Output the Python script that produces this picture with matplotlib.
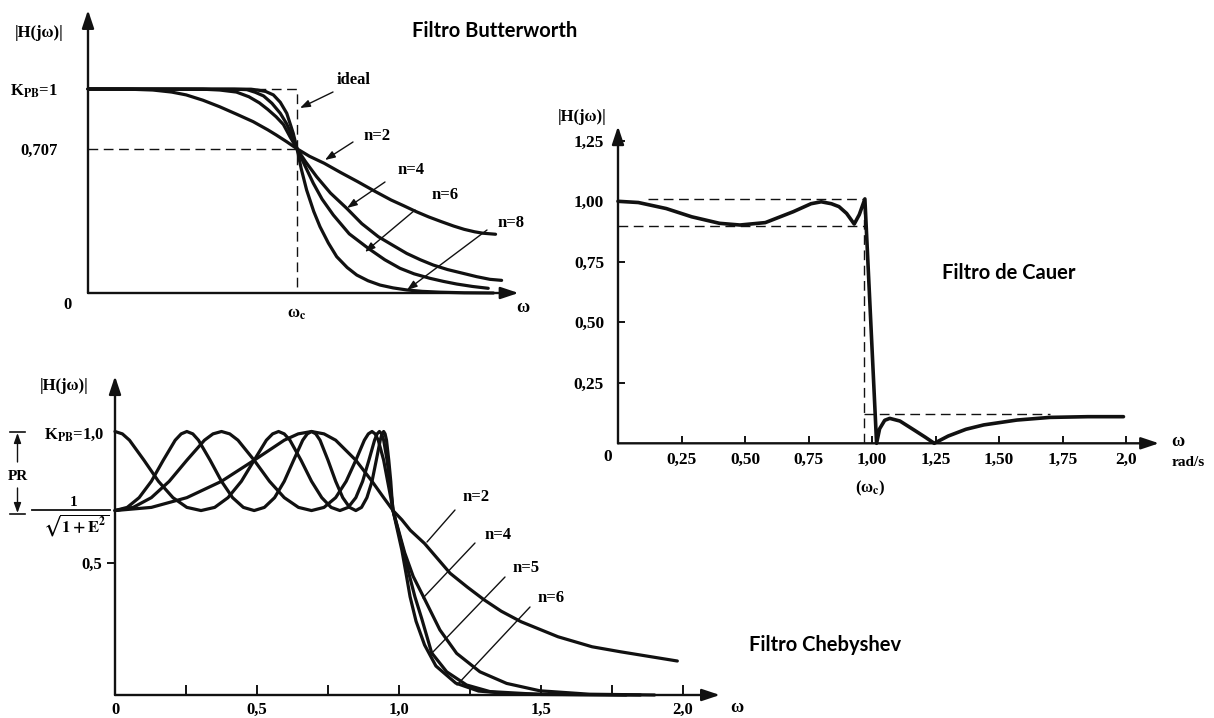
import matplotlib.pyplot as plt
from matplotlib.lines import Line2D
from matplotlib.transforms import Affine2D

plt.rcParams.update({
    "font.family": "Liberation Serif",
    "font.weight": "bold",
    "font.size": 12,
    "mathtext.fontset": "stix",
})

W, H = 1214, 718
INK = "#111111"

# ---- Butterworth: |H| vs w/wc ----
bw_w2 = [0, 0.20, 0.31, 0.40, 0.47, 0.55, 0.63, 0.71, 0.79, 0.86, 0.90, 0.95, 1.00, 1.06,
         1.13, 1.21, 1.29, 1.37, 1.45, 1.51, 1.57, 1.63, 1.69, 1.75, 1.80, 1.85, 1.89, 1.95]
bw_h2 = [1.0, 0.999, 0.995, 0.985, 0.971, 0.945, 0.913, 0.877, 0.840, 0.800, 0.775, 0.742, 0.707, 0.670,
         0.636, 0.590, 0.546, 0.500, 0.456, 0.428, 0.399, 0.373, 0.350, 0.328, 0.312, 0.300, 0.293, 0.288]
bw_w4 = [0, 0.55, 0.63, 0.71, 0.77, 0.82, 0.86, 0.90, 0.935, 0.967, 1.0, 1.04, 1.094,
         1.16, 1.238, 1.31, 1.389, 1.46, 1.525, 1.59, 1.652, 1.72, 1.796, 1.86, 1.923, 1.979]
bw_h4 = [1.0, 0.999, 0.995, 0.985, 0.962, 0.932, 0.900, 0.864, 0.826, 0.765, 0.707, 0.645, 0.570,
         0.490, 0.415, 0.340, 0.276, 0.233, 0.194, 0.163, 0.137, 0.115, 0.096, 0.080, 0.067, 0.062]
bw_w6 = [0, 0.70, 0.76, 0.80, 0.84, 0.88, 0.92, 0.95, 0.975, 1.0, 1.04, 1.078,
         1.12, 1.174, 1.25, 1.341, 1.42, 1.493, 1.56, 1.636, 1.70, 1.764, 1.84, 1.915]
bw_h6 = [1.0, 0.999, 0.997, 0.984, 0.966, 0.930, 0.881, 0.830, 0.775, 0.707, 0.620, 0.538,
         0.460, 0.382, 0.290, 0.219, 0.163, 0.121, 0.094, 0.072, 0.057, 0.044, 0.032, 0.023]
bw_w8 = [0, 0.78, 0.81, 0.85, 0.887, 0.92, 0.951, 0.982, 1.0, 1.02, 1.046, 1.08, 1.11,
         1.15, 1.19, 1.24, 1.286, 1.34, 1.397, 1.46, 1.525, 1.60, 1.684, 1.80, 1.94]
bw_h8 = [1.0, 0.999, 0.995, 0.988, 0.971, 0.935, 0.881, 0.783, 0.707, 0.610, 0.505, 0.400, 0.325,
         0.245, 0.178, 0.125, 0.088, 0.060, 0.039, 0.025, 0.015, 0.008, 0.004, 0.001, 0.0]
bw_orders = ["n=2", "n=4", "n=6", "n=8"]

# ---- Cauer (elliptic), w in rad/s ----
cauer_w = [0, 0.08, 0.19, 0.29, 0.40, 0.48, 0.58, 0.69, 0.76, 0.80, 0.84, 0.87, 0.90, 0.93, 0.95,
           0.972, 1.018, 1.03, 1.05, 1.07, 1.11, 1.17, 1.21, 1.245, 1.30, 1.37, 1.44, 1.57, 1.70,
           1.85, 1.99]
cauer_h = [1.0, 0.995, 0.97, 0.936, 0.909, 0.902, 0.912, 0.957, 0.99, 0.998, 0.99, 0.978, 0.95,
           0.906, 0.945, 1.01, 0.0, 0.06, 0.095, 0.103, 0.092, 0.052, 0.025, 0.0, 0.03, 0.058, 0.076,
           0.096, 0.107, 0.110, 0.110]
cauer_pass_hi, cauer_pass_lo, cauer_stop, cauer_edge = 1.01, 0.90, 0.12, 0.97
cauer_xticks = [0.25, 0.50, 0.75, 1.00, 1.25, 1.50, 1.75, 2.0]
cauer_xlabels = ["0,25", "0,50", "0,75", "1,00", "1,25", "1,50", "1,75", "2,0"]
cauer_yticks = [0.25, 0.50, 0.75, 1.00, 1.25]
cauer_ylabels = ["0,25", "0,50", "0,75", "1,00", "1,25"]

# ---- Chebyshev ----
cheb_w2 = [0, 0.128, 0.253, 0.375, 0.490, 0.596, 0.645, 0.692, 0.736, 0.777, 0.848, 0.905, 0.946,
           0.971, 0.979,
           1.01, 1.04, 1.09, 1.18, 1.24, 1.30, 1.36, 1.43, 1.56, 1.68, 1.78, 1.98]
cheb_h2 = [0.700, 0.712, 0.749, 0.811, 0.891, 0.967, 0.991, 1.000, 0.991, 0.967, 0.891, 0.811, 0.749,
           0.712, 0.700,
           0.665, 0.625, 0.575, 0.462, 0.410, 0.361, 0.318, 0.278, 0.221, 0.183, 0.164, 0.129]
cheb_w4 = [0, 0.064, 0.128, 0.191, 0.253, 0.315, 0.345, 0.375, 0.404, 0.433, 0.490, 0.544, 0.596,
           0.646, 0.692, 0.736, 0.777, 0.814, 0.848, 0.878, 0.892, 0.905, 0.916, 0.927, 0.946,
           0.960, 0.971, 0.977, 0.979,
           1.02, 1.05, 1.086, 1.144, 1.203, 1.285, 1.379, 1.496, 1.67, 1.90]
cheb_h4 = [0.700, 0.712, 0.749, 0.811, 0.891, 0.967, 0.991, 1.000, 0.991, 0.967, 0.891, 0.811, 0.749,
           0.712, 0.700, 0.712, 0.749, 0.811, 0.891, 0.967, 0.991, 1.000, 0.991, 0.967, 0.891,
           0.811, 0.749, 0.712, 0.700,
           0.54, 0.45, 0.373, 0.247, 0.158, 0.088, 0.044, 0.016, 0.003, 0.0]
cheb_w5 = [0, 0.026, 0.051, 0.102, 0.153, 0.204, 0.253, 0.303, 0.351, 0.398, 0.445, 0.490, 0.533,
           0.555, 0.576, 0.596, 0.616, 0.655, 0.692, 0.728, 0.761, 0.792, 0.821, 0.848, 0.872,
           0.894, 0.914, 0.923, 0.931, 0.939, 0.946, 0.958, 0.967, 0.974, 0.978, 0.979,
           1.015, 1.035, 1.056, 1.08, 1.115, 1.168, 1.238, 1.32, 1.50, 1.85]
cheb_h5 = [1.000, 0.991, 0.967, 0.891, 0.811, 0.749, 0.712, 0.700, 0.712, 0.749, 0.811, 0.891, 0.967,
           0.991, 1.000, 0.991, 0.967, 0.891, 0.811, 0.749, 0.712, 0.700, 0.712, 0.749, 0.811,
           0.891, 0.967, 0.991, 1.000, 0.991, 0.967, 0.891, 0.811, 0.749, 0.712, 0.700,
           0.55, 0.46, 0.373, 0.29, 0.16, 0.088, 0.038, 0.013, 0.002, 0.0]
cheb_w6 = [0, 0.043, 0.085, 0.128, 0.170, 0.212, 0.233, 0.253, 0.274, 0.294, 0.335, 0.375, 0.414,
           0.452, 0.490, 0.526, 0.562, 0.596, 0.629, 0.661, 0.677, 0.692, 0.707, 0.722, 0.750,
           0.777, 0.802, 0.826, 0.848, 0.868, 0.887, 0.905, 0.920, 0.934, 0.940, 0.946, 0.951,
           0.956, 0.964, 0.971, 0.975, 0.978, 0.979,
           1.01, 1.025, 1.039, 1.06, 1.09, 1.13, 1.20, 1.28, 1.40, 1.80]
cheb_h6 = [0.700, 0.712, 0.749, 0.811, 0.891, 0.967, 0.991, 1.000, 0.991, 0.967, 0.891, 0.811, 0.749,
           0.712, 0.700, 0.712, 0.749, 0.811, 0.891, 0.967, 0.991, 1.000, 0.991, 0.967, 0.891,
           0.811, 0.749, 0.712, 0.700, 0.712, 0.749, 0.811, 0.891, 0.967, 0.991, 1.000, 0.991,
           0.967, 0.891, 0.811, 0.749, 0.712, 0.700,
           0.55, 0.46, 0.373, 0.28, 0.19, 0.11, 0.045, 0.015, 0.004, 0.0]
cheb_orders = ["n=2", "n=4", "n=5", "n=6"]
cheb_xticks = [0, 0.5, 1.0, 1.5, 2.0]
cheb_xlabels = ["0", "0,5", "1,0", "1,5", "2,0"]
cheb_xminor = [0.25, 0.75, 1.25, 1.75]

fig = plt.figure(figsize=(W / 100, H / 100), dpi=100)
# pixel coords measured from the top-left corner of the picture
PIX = Affine2D().scale(1 / W, -1 / H).translate(0, 1) + fig.transFigure
DASH = dict(ls=(0, (7, 4)), lw=1.0, color=INK)
CURVE = dict(lw=2.3, color=INK, solid_capstyle="round", solid_joinstyle="round", clip_on=False)


def panel(x0, y0, sx, sy, xmax, ymax):
    ax = fig.add_axes([x0 / W, 1 - y0 / H, xmax * sx / W, ymax * sy / H])
    ax.set_xlim(0, xmax)
    ax.set_ylim(0, ymax)
    ax.patch.set_visible(False)
    for s in ax.spines.values():
        s.set_visible(False)
    arr = dict(arrowstyle="-|>,head_length=0.9,head_width=0.3", lw=1.7, color=INK,
               shrinkA=0, shrinkB=0)
    ax.annotate("", xy=(xmax, 0), xytext=(0, 0), arrowprops=arr, annotation_clip=False)
    ax.annotate("", xy=(0, ymax), xytext=(0, 0), arrowprops=arr, annotation_clip=False)
    return ax


def txt(x, y, s, **kw):
    kw.setdefault("ha", "center")
    kw.setdefault("va", "center")
    fig.text(x, y, s, transform=PIX, **kw)


def leader(ax, x1, y1, x2, y2, head=True):
    style = "-|>,head_length=0.5,head_width=0.18" if head else "-"
    ax.annotate("", xy=(x2, y2), xytext=(x1, y1), xycoords=PIX, textcoords=PIX,
                annotation_clip=False,
                arrowprops=dict(arrowstyle=style, lw=1.0, color=INK, shrinkA=0, shrinkB=0))


def seg(x1, y1, x2, y2, lw=1.2):
    fig.add_artist(Line2D([x1, x2], [y1, y2], transform=PIX, lw=lw, color=INK))


TITLE = dict(family="Lato", weight="bold", fontsize=14.5)

# ================= Butterworth =================
ax = panel(88, 293, 209, 204, 2.06, 1.387)
ax.plot([0, 1], [0.707, 0.707], **DASH)
ax.plot([0, 1, 1], [1, 1, 0], **DASH)
for w, h in [(bw_w2, bw_h2), (bw_w4, bw_h4), (bw_w6, bw_h6), (bw_w8, bw_h8)]:
    ax.plot(w, h, **CURVE)
ax.set_xticks([1.0], ["ω$_\\mathbf{c}$"])
ax.set_yticks([0.707, 1.0], ["0,707", "K$_{\\mathbf{PB}}$=1"])
ax.tick_params(length=0, labelsize=12)
ax.tick_params(axis="x", pad=9)
ax.tick_params(axis="y", pad=22)
txt(39, 33, "|H(jω)|", fontsize=12)
txt(68, 305, "0")
txt(523, 307, "ω", fontsize=13)
txt(495, 31, "Filtro Butterworth", **TITLE)
txt(354, 80, "ideal", fontsize=12)
leader(ax, 333, 92, 300, 108)
for name, (lx, ly), (a, b, c, d) in zip(
        bw_orders,
        [(377, 136), (411, 170), (445, 195), (511, 223)],
        [(353, 142, 325, 160), (385, 182, 347, 208), (415, 210, 365, 252), (487, 230, 407, 290)]):
    txt(lx, ly, name, fontsize=12)
    leader(ax, a, b, c, d)

# ================= Cauer =================
ax = panel(618, 443.3, 254, 242, 2.13, 1.31)
ax.plot([0.12, cauer_edge], [cauer_pass_hi] * 2, **DASH)
ax.plot([0, cauer_edge], [cauer_pass_lo] * 2, **DASH)
ax.plot([cauer_edge] * 2, [0, cauer_pass_hi], **DASH)
ax.plot([cauer_edge, 1.70], [cauer_stop] * 2, **DASH)
ax.plot(cauer_w, cauer_h, **{**CURVE, "lw": 2.6})
ax.set_xticks(cauer_xticks, cauer_xlabels)
ax.set_yticks(cauer_yticks, cauer_ylabels)
ax.tick_params(direction="in", length=5, width=1.3, labelsize=12.5)
ax.tick_params(axis="x", pad=6)
ax.tick_params(axis="y", pad=10)
txt(582, 117, "|H(jω)|", fontsize=12)
txt(608, 457, "0", fontsize=12.5)
txt(1178, 441, "ω", fontsize=13)
txt(1188, 462, "rad/s", fontsize=11)
txt(870, 488, "(ω$_\\mathbf{c}$)", fontsize=12)
txt(1009, 273, "Filtro de Cauer", **TITLE)

# ================= Chebyshev =================
ax = panel(115, 695, 284, 263.5, 2.13, 1.21)
for w, h in [(cheb_w2, cheb_h2), (cheb_w4, cheb_h4), (cheb_w5, cheb_h5), (cheb_w6, cheb_h6)]:
    ax.plot(w, h, **CURVE)
ax.set_xticks(cheb_xticks, cheb_xlabels)
ax.set_xticks(cheb_xminor, minor=True)
ax.tick_params(axis="x", which="both", direction="in", length=7, width=1.3, pad=5, labelsize=12)
ax.set_yticks([0.5], ["0,5"])
ax.tick_params(axis="y", direction="out", length=6, width=1.3, pad=3, labelsize=12)
txt(64, 386, "|H(jω)|", fontsize=12)
txt(74, 435, "K$_{\\mathbf{PB}}$=1,0", fontsize=12)
txt(737, 708, "ω", fontsize=13)
txt(825, 645, "Filtro Chebyshev", **TITLE)
# PR bracket and 1/sqrt(1+E^2) label
seg(10, 432, 25, 432)
seg(10, 514, 25, 514)
leader(ax, 17.5, 462, 17.5, 433)
leader(ax, 17.5, 488, 17.5, 513)
txt(18, 477, "PR", fontsize=11)
seg(32, 510, 110, 510, lw=1.3)
txt(74, 502, "1", fontsize=11)
txt(76, 525, "$\\sqrt{\\mathbf{1+E^2}}$", fontsize=12)
for name, (lx, ly), (a, b, c, d) in zip(
        cheb_orders,
        [(476, 497), (498, 535), (526, 568), (551, 598)],
        [(455, 510, 427, 542), (475, 543, 423, 598), (505, 577, 432, 653), (530, 607, 457, 685)]):
    txt(lx, ly, name, fontsize=12)
    leader(ax, a, b, c, d, head=False)

fig.savefig("out.png", dpi=100)
